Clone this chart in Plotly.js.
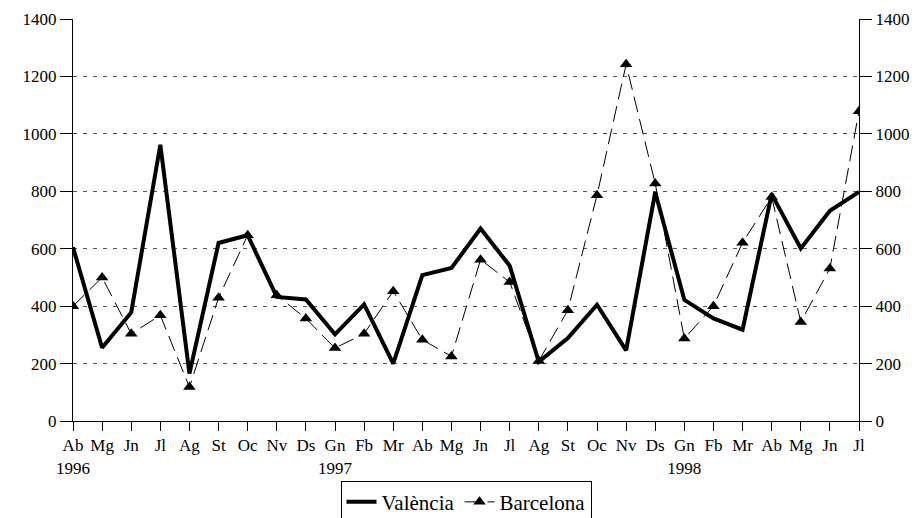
<!DOCTYPE html>
<html>
<head>
<meta charset="utf-8">
<script src="https://cdn.plot.ly/plotly-3.0.1.min.js"></script>
<style>html,body{margin:0;padding:0;background:#fff;}#chart{width:921px;height:518px;}</style>
</head>
<body>
<div id="chart"></div>
<script>
const months = ["Ab","Mg","Jn","Jl","Ag","St","Oc","Nv","Ds","Gn","Fb","Mr","Ab","Mg","Jn","Jl","Ag","St","Oc","Nv","Ds","Gn","Fb","Mr","Ab","Mg","Jn","Jl"];
const years  = ["1996","","","","","","","","","1997","","","","","","","","","","","","1998","","","","","",""];
const valencia  = [605,255,378,962,165,620,647,432,423,302,406,200,508,533,670,541,206,289,405,246,797,422,357,318,790,601,732,798];
const barcelona = [400,500,304,368,118,429,647,438,357,254,304,452,283,225,562,484,209,386,786,1242,827,287,400,621,780,345,531,1079];
const seriesNames = ["València","Barcelona"];
const yTicks = [0,200,400,600,800,1000,1200,1400];

const idx = months.map((m,i)=>i);
const ticktext = months.map((m,i)=> years[i] ? m + "<br>" + years[i] : m);

const fam = "'Liberation Serif', 'Times New Roman', Times, serif";
const font = {family:fam, size:17, color:"#000"};

const traces = [
  {x: idx, y: valencia, name: seriesNames[0], type:"scatter", mode:"lines",
   line:{color:"#000", width:4}},
  {x: idx, y: barcelona, name: seriesNames[1], type:"scatter", mode:"lines+markers",
   line:{color:"#000", width:1, dash:"16px,7px"},
   marker:{symbol:"triangle-up", size:11, color:"#000"}},
  {x: idx, y: valencia, yaxis:"y2", type:"scatter", mode:"lines", showlegend:false,
   hoverinfo:"skip", line:{width:0, color:"rgba(0,0,0,0)"}}
];

const layout = {
  width:921, height:518,
  margin:{l:73, r:62, t:19, b:97},
  paper_bgcolor:"#fff", plot_bgcolor:"#fff",
  font: font,
  showlegend:true,
  legend:{orientation:"h", x:0.5, xanchor:"center", yref:"container", y:0.072, yanchor:"top",
          bordercolor:"#000", borderwidth:1, bgcolor:"#fff",
          font:{family:fam, size:21, color:"#000"}, itemwidth:30, tracegroupgap:0},
  xaxis:{range:[0,27], tickvals:idx, ticktext:ticktext, tickmode:"array", automargin:false, tickangle:0,
         showgrid:false, zeroline:false, showline:true, linecolor:"#000", linewidth:1,
         ticks:"outside", ticklen:9, tickcolor:"#000", tickfont:font, fixedrange:true},
  yaxis:{range:[0,1400], tickvals:yTicks, tickmode:"array", automargin:false,
         showgrid:true, gridcolor:"#5a5a4a", griddash:"4px,6px", gridwidth:1,
         zeroline:false, showline:true, linecolor:"#000", linewidth:1,
         ticks:"outside", ticklen:12, tickcolor:"#000", tickfont:font},
  yaxis2:{range:[0,1400], tickvals:yTicks, tickmode:"array", overlaying:"y", side:"right", automargin:false,
          showgrid:false, zeroline:false, showline:true, linecolor:"#000", linewidth:1,
          ticks:"outside", ticklen:12, tickcolor:"#000", tickfont:font}
};

Plotly.newPlot("chart", traces, layout, {displayModeBar:false, staticPlot:true});
</script>
</body>
</html>
